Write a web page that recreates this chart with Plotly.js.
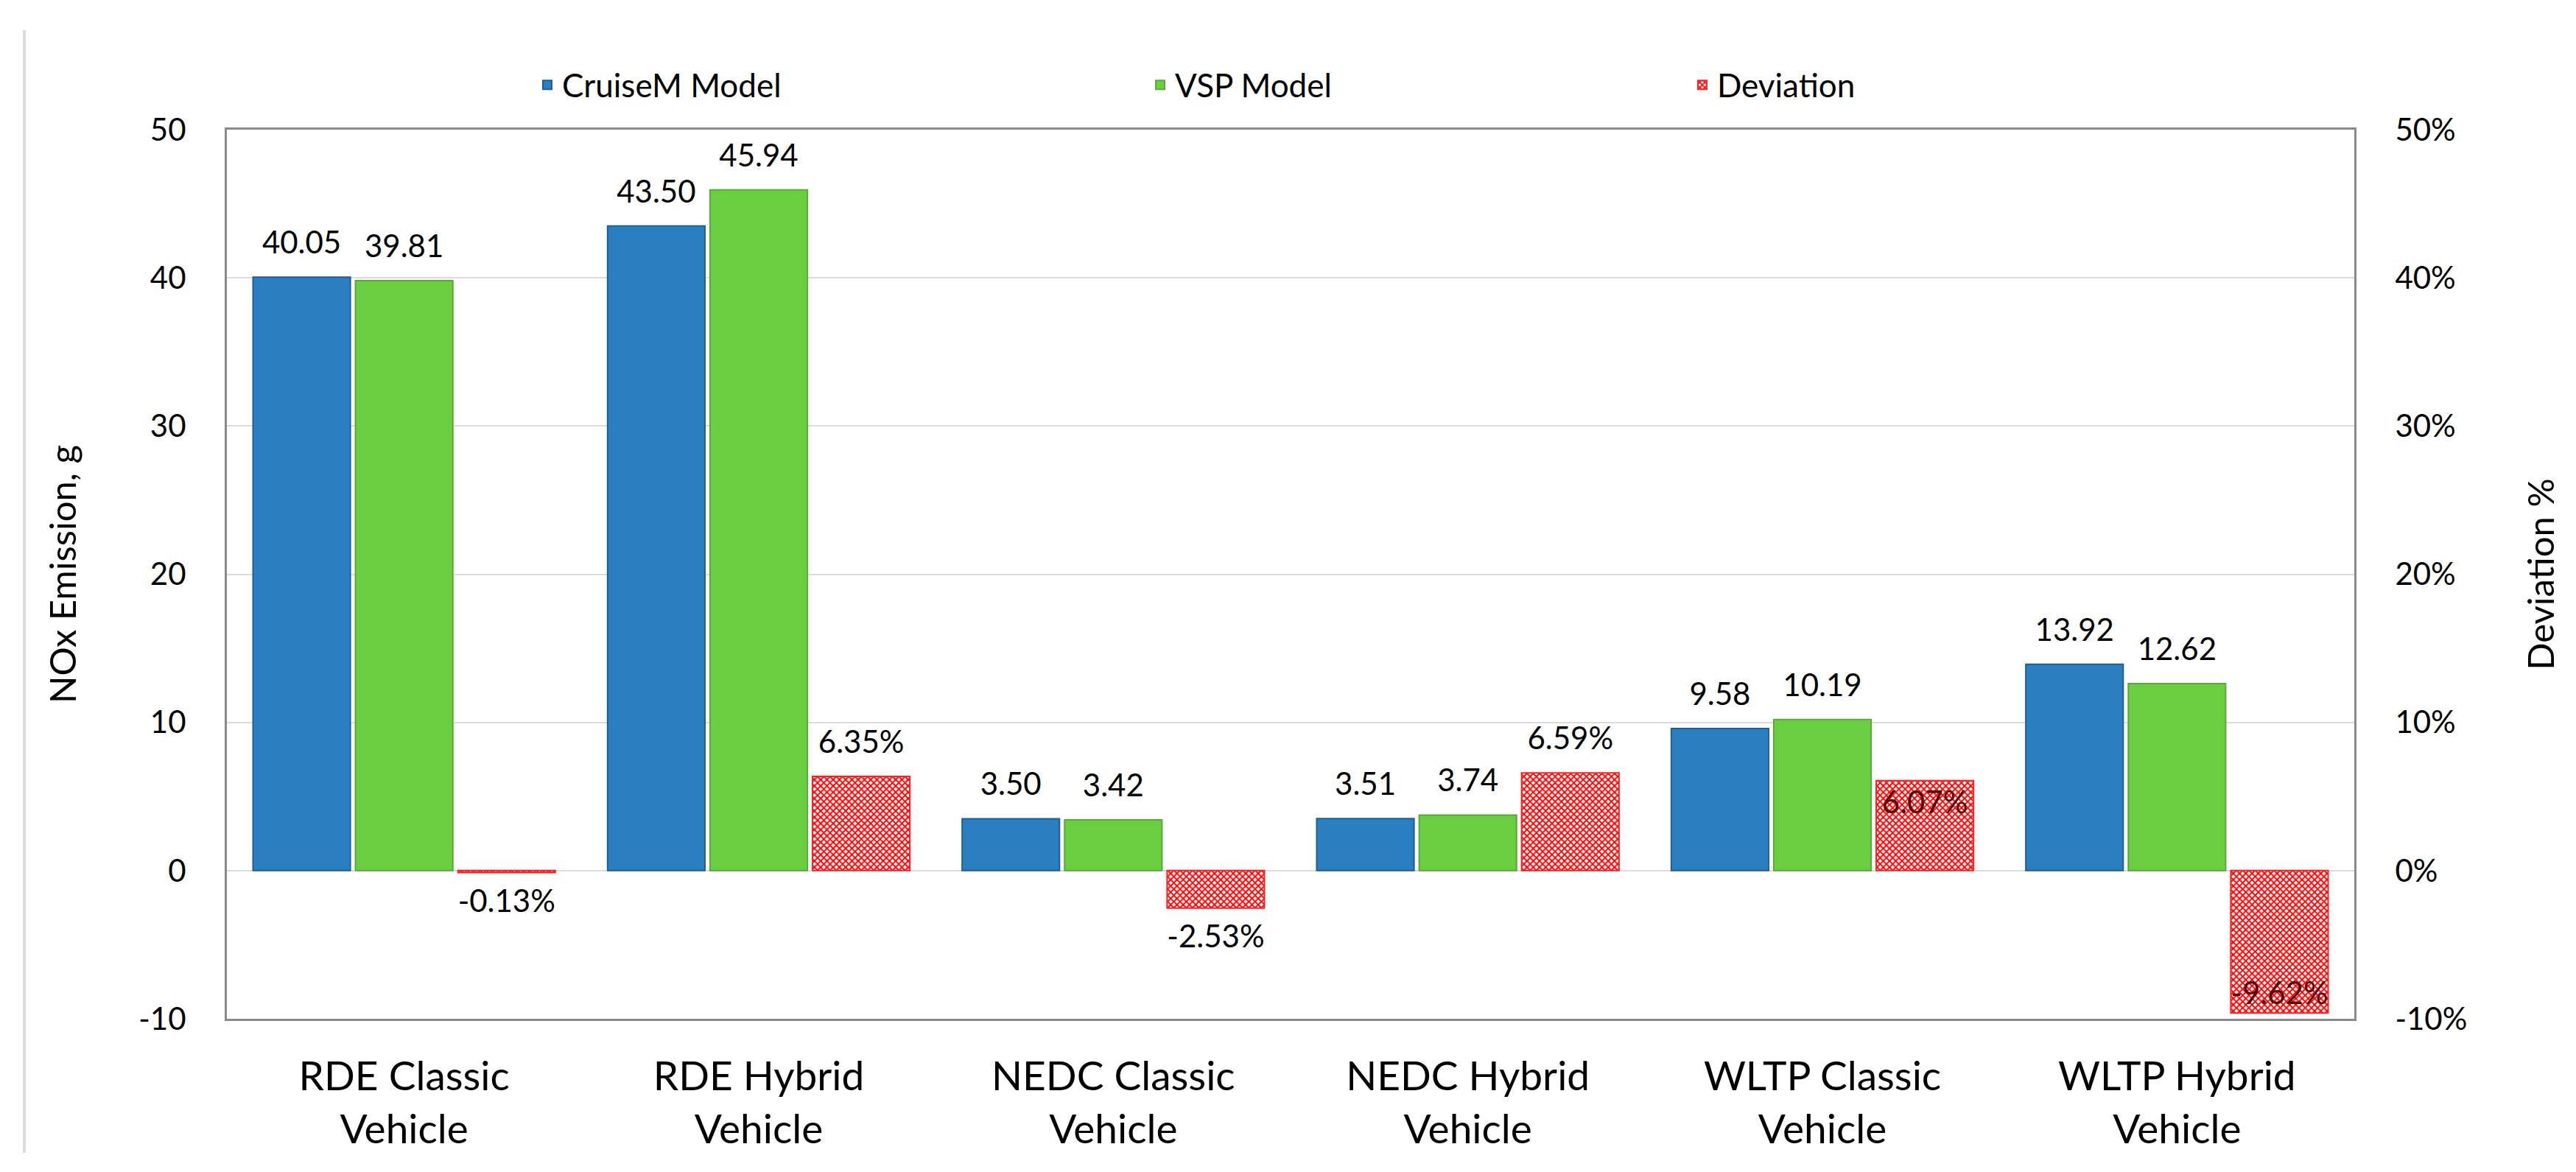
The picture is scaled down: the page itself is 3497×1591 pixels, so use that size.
<!DOCTYPE html>
<html>
<head>
<meta charset="utf-8">
<script src="https://cdn.plot.ly/plotly-3.0.1.min.js"></script>
<style>html,body{margin:0;padding:0;background:#fff;}#chart{width:3497px;height:1591px;}</style>
</head>
<body>
<div id="chart"></div>
<script>
const categories = [
  "RDE Classic<br>Vehicle", "RDE Hybrid<br>Vehicle", "NEDC Classic<br>Vehicle",
  "NEDC Hybrid<br>Vehicle", "WLTP Classic<br>Vehicle", "WLTP Hybrid<br>Vehicle"
];
const cruiseM = [40.05, 43.50, 3.50, 3.51, 9.58, 13.92];
const vsp = [39.81, 45.94, 3.42, 3.74, 10.19, 12.62];
const deviation = [-0.13, 6.35, -2.53, 6.59, 6.07, -9.62];
const leftTicks = [-10, 0, 10, 20, 30, 40, 50];
const leftTickText = ["-10", "0", "10", "20", "30", "40", "50"];
const rightTickText = ["-10%", "0%", "10%", "20%", "30%", "40%", "50%"];
// which deviation labels sit inside their bar (as in the original)
const devInside = [false, false, false, false, true, true];

const FONT = "Lato, 'Open Sans', sans-serif";
const LABEL_SIZE = 42;

const cruiseLabels = cruiseM.map(v => v.toFixed(2));
const vspLabels = vsp.map(v => v.toFixed(2));
const devLabels = deviation.map(v => v.toFixed(2) + "%");

function labelTrace(vals, labels, group, keep) {
  return {
    type: "scatter", mode: "markers+text", x: categories, y: vals,
    offsetgroup: group, alignmentgroup: "lbl", yaxis: "y",
    text: labels.map((t, i) => (keep ? keep[i] : true) ? t : ""),
    textposition: vals.map(v => v >= 0 ? "top center" : "bottom center"),
    textfont: {family: FONT, size: LABEL_SIZE, color: "#000"},
    marker: {size: 33, opacity: 0, color: "#fff"},
    cliponaxis: false, showlegend: false, hoverinfo: "skip"
  };
}

const traces = [
  {
    type: "bar", name: "CruiseM Model", x: categories, y: cruiseM,
    offsetgroup: "1", alignmentgroup: "a", yaxis: "y", legend: "legend",
    marker: {color: "#2a7fc0", line: {color: "#1f5e96", width: 2}},
    hoverinfo: "skip"
  },
  {
    type: "bar", name: "VSP Model", x: categories, y: vsp,
    offsetgroup: "2", alignmentgroup: "a", yaxis: "y", legend: "legend2",
    marker: {color: "#6acf40", line: {color: "#5aa938", width: 2}},
    hoverinfo: "skip"
  },
  {
    type: "bar", name: "Deviation", x: categories, y: deviation,
    offsetgroup: "3", alignmentgroup: "a", yaxis: "y2", legend: "legend3",
    marker: {
      color: "#ffffff",
      line: {color: "#ff2020", width: 2},
      pattern: {shape: "x", size: 6, solidity: 0.55, fgcolor: "#ff0000", bgcolor: "#ffffff", fillmode: "replace"}
    },
    text: devLabels.map((t, i) => devInside[i] ? t : ""),
    textposition: "inside", textangle: 0,
    insidetextanchor: "end", constraintext: "none",
    insidetextfont: {family: FONT, size: LABEL_SIZE, color: "#5a0000"},
    cliponaxis: false, hoverinfo: "skip"
  },
  labelTrace(cruiseM, cruiseLabels, "1"),
  labelTrace(vsp, vspLabels, "2"),
  // deviation labels: both y axes share the same -10..50 span, so the pixel height matches
  labelTrace(deviation, devLabels, "3", devInside.map(b => !b))
];

const legendBase = {
  orientation: "h", yanchor: "middle", xanchor: "left", y: 1.05,
  font: {family: FONT, size: 44, color: "#000"}, bgcolor: "rgba(0,0,0,0)",
  itemwidth: 30
};

const layout = {
  width: 3497, height: 1591,
  margin: {l: 308, r: 301, t: 176, b: 208, pad: 0},
  paper_bgcolor: "#fff", plot_bgcolor: "#fff",
  barmode: "group", bargap: 0.133, bargroupgap: 0.05,
  scattermode: "group", scattergap: 0.133,
  font: {family: FONT, size: 42, color: "#000"},
  showlegend: true,
  legend: Object.assign({}, legendBase, {x: 0.1437}),
  legend2: Object.assign({}, legendBase, {x: 0.4318}),
  legend3: Object.assign({}, legendBase, {x: 0.6866}),
  xaxis: {
    type: "category", showline: true, mirror: true, linecolor: "#8a8a8a", linewidth: 3,
    ticks: "outside", ticklen: 28, tickcolor: "rgba(0,0,0,0)",
    tickfont: {family: FONT, size: 55, color: "#000"}, showgrid: false, automargin: false
  },
  yaxis: {
    range: [-10, 50], tickmode: "array", tickvals: leftTicks, ticktext: leftTickText,
    showline: true, linecolor: "#8a8a8a", linewidth: 3,
    showgrid: true, gridcolor: "#dcdcdc", gridwidth: 2, zeroline: false,
    ticks: "outside", ticklen: 44, tickcolor: "rgba(0,0,0,0)",
    tickfont: {family: FONT, size: 42, color: "#000"}, automargin: false,
    title: {text: "NOx Emission, g", font: {family: FONT, size: 49, color: "#000"}, standoff: 70}
  },
  yaxis2: {
    range: [-10, 50], tickmode: "array", tickvals: leftTicks, ticktext: rightTickText,
    overlaying: "y", side: "right",
    showline: true, linecolor: "#8a8a8a", linewidth: 3, showgrid: false, zeroline: false,
    ticks: "outside", ticklen: 44, tickcolor: "rgba(0,0,0,0)",
    tickfont: {family: FONT, size: 42, color: "#000"}, automargin: false,
    title: {text: "Deviation %", font: {family: FONT, size: 49, color: "#000"}, standoff: 85}
  },
  shapes: [
    {type: "line", xref: "paper", yref: "paper",
     x0: (33 - 308) / 2888, x1: (33 - 308) / 2888,
     y0: (1383 - 41) / 1207, y1: (1383 - 1565) / 1207,
     line: {color: "#dcdcdc", width: 4}}
  ]
};

Plotly.newPlot("chart", traces, layout, {staticPlot: true, displayModeBar: false});
</script>
</body>
</html>
